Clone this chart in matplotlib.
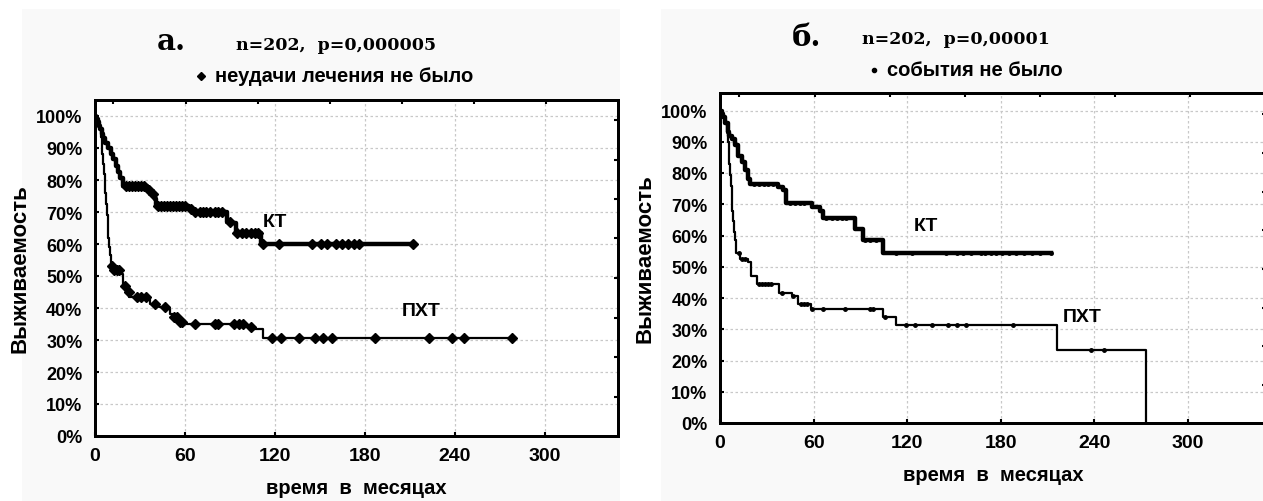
import numpy as np
import matplotlib
matplotlib.use("Agg")
import matplotlib.pyplot as plt
from matplotlib.patches import Rectangle
from matplotlib.lines import Line2D

# ---------------- data ----------------
# panel a (failure-free survival)
kt_a_t = [0, 1, 2, 3, 3.5, 4.5, 5.5, 7, 9, 10.5, 12, 14, 15.5, 17, 19, 35, 37.5, 40, 41, 63, 65.5, 88, 91, 94, 111, 212]
kt_a_s = [100, 99, 98, 97, 96, 94.5, 93, 91.5, 90, 88, 86.5, 84.5, 82.5, 80.5, 78, 77, 75.5, 74, 72, 71, 70, 67, 66.5,
          63.5, 60, 60]
kt_a_cens = [21, 23, 25, 27, 29, 31, 33, 36, 39, 42, 44, 46, 48, 50, 52, 54, 56, 58, 60, 64, 67, 70, 72, 74,
             77, 80, 82, 85, 90, 95, 98, 101, 104, 107, 109, 112, 123, 145, 151, 155, 161, 165, 169, 173, 176, 212]

pxt_a_t = [0, 1, 2, 3, 3.5, 4, 4.5, 5, 5.5, 6, 6.5, 7, 7.5, 8, 8.5, 9, 9.5, 10, 10.5, 11, 13, 16.5, 19, 21, 23, 37,
           43, 47.5, 50, 52, 56.5, 59, 101.5, 105, 112, 280]
pxt_a_s = [100, 99, 98, 97, 96, 93.5, 91, 88, 85, 82, 79, 76, 72.5, 69, 65.5, 62, 59, 56.5, 54.5, 53, 52, 50.5, 47,
           45, 43.3, 41.3, 40.2, 39.7, 38.1, 37.1, 35.5, 35, 34, 33.5, 30.5, 30.5]
pxt_a_cens = [11.5, 13, 14.5, 16, 20, 22.5, 28, 31, 34, 40, 47, 53, 55, 57, 58, 67, 80, 82, 93, 96, 99, 104,
              118, 124, 136, 147, 152, 158, 187, 223, 238, 246, 278]

# panel b (event-free survival)
kt_b_t = [0, 1, 2, 3, 3.5, 5, 6, 7.5, 9.5, 11.5, 14, 16, 18, 19.5, 37, 40.5, 42.5, 59, 64, 66, 86.5, 91.5, 104.5, 212]
kt_b_s = [100, 99, 98, 97, 96, 93, 92, 91, 89, 85.5, 83.5, 81, 78, 76.5, 75.5, 74.5, 70.5, 69, 68, 65.5, 62, 58.5,
          54.5, 54.5]
kt_b_cens = [22, 25, 28, 31, 34, 45, 48, 51, 54, 68, 72, 75, 78, 81, 93, 96, 100, 113, 123, 145, 152, 156,
             161, 167, 170, 174, 177, 181, 185, 190, 195, 200, 205, 212]

pxt_b_t = [0, 1, 2, 3, 3.5, 4.5, 5, 5.5, 6, 6.5, 7, 7.5, 8, 8.5, 9, 9.5, 10, 10.5, 13, 18, 20, 23.5, 37.5, 46, 50,
           58.5, 104.5, 113, 216, 273, 273]
pxt_b_s = [100, 99, 98, 97, 96, 93, 90, 86.5, 83, 79.5, 76, 72, 68, 64.5, 61, 58.5, 56, 54.5, 52.5, 51.5, 47, 44.5,
           41.5, 40.5, 38, 36.5, 34, 31.5, 23.5, 0, 0]
pxt_b_cens = [12, 14, 16, 25, 27, 29, 31, 33, 40, 47, 52, 54, 56, 59, 66, 80, 96, 98, 106, 119, 125, 136,
              146, 152, 158, 188, 238, 246]

x_ticks = [0, 60, 120, 180, 240, 300]
y_ticks = [0, 10, 20, 30, 40, 50, 60, 70, 80, 90, 100]
y_labels = [f"{v}%" for v in y_ticks]
top_ticks = [12, 61, 109, 157, 205, 253, 301]
right_ticks = [12.2, 24.7, 36.9, 49.4, 61.9, 74, 86.25, 98.75]

W, H = 1263, 502
fig = plt.figure(figsize=(W / 100, H / 100), dpi=100, facecolor="white")
plt.rcParams["font.family"] = ["Liberation Sans", "DejaVu Sans"]

# light grey panel backgrounds
bg = "#f9f9f9"
fig.add_artist(Rectangle((22 / W, 0), (620 - 22) / W, (H - 10) / H, transform=fig.transFigure,
                         facecolor=bg, edgecolor="none", zorder=-10))
fig.add_artist(Rectangle((661 / W, 0), (W - 661) / W, (H - 10) / H, transform=fig.transFigure,
                         facecolor=bg, edgecolor="none", zorder=-10))


def surv_at(times, surv, pts):
    idx = np.searchsorted(np.asarray(times), np.asarray(pts), side="right") - 1
    return np.asarray(surv)[idx]


def setup(ax, ylim_top, xlim_right):
    ax.set_xlim(0, xlim_right)
    ax.set_ylim(0, ylim_top)
    ax.set_xticks(x_ticks)
    ax.set_xticklabels([str(v) for v in x_ticks], fontsize=14, fontweight="bold")
    ax.set_yticks(y_ticks)
    ax.set_yticklabels(y_labels, fontsize=13, fontweight="bold")
    ax.tick_params(direction="in", length=3, width=1.5)
    ax.tick_params(axis="y", pad=9)
    ax.tick_params(axis="x", pad=8)
    ax.grid(True, color="#c8c8c8", linestyle=(0, (2, 2)), linewidth=0.9)
    for s in ax.spines.values():
        s.set_linewidth(2)
    ax.set_facecolor("white")
    ax.set_ylabel("Выживаемость", fontsize=16, fontweight="bold", labelpad=4)
    ax.set_xlabel("время  в  месяцах", fontsize=14.5, fontweight="bold", labelpad=10)
    # extra ticks on the top / right frame
    ty = ax.twiny()
    ty.set_xlim(ax.get_xlim())
    ty.set_xticks(top_ticks)
    ty.set_xticklabels([])
    ty.tick_params(direction="in", length=3, width=1.5)
    tx = ax.twinx()
    tx.set_ylim(ax.get_ylim())
    tx.set_yticks(right_ticks)
    tx.set_yticklabels([])
    tx.tick_params(direction="in", length=3, width=1.5)
    for a in (ty, tx):
        for s in a.spines.values():
            s.set_linewidth(2)


# ---------------- panel a ----------------
axa = fig.add_axes([95 / W, (H - 437) / H, (618 - 95) / W, (437 - 101) / H])
setup(axa, 105, 349)
axa.plot(kt_a_t, kt_a_s, drawstyle="steps-post", color="black", lw=3.2, zorder=3)
axa.plot(kt_a_cens, surv_at(kt_a_t, kt_a_s, kt_a_cens), "D", color="black", ms=5, zorder=4)
axa.plot(pxt_a_t, pxt_a_s, drawstyle="steps-post", color="black", lw=1.6, zorder=3)
axa.plot(pxt_a_cens, surv_at(pxt_a_t, pxt_a_s, pxt_a_cens), "D", color="black", ms=5.5, zorder=4)
axa.text(112, 64.5, "КТ", fontsize=14, fontweight="bold", ha="left", va="bottom")
axa.text(205, 36.5, "ПХТ", fontsize=14, fontweight="bold", ha="left", va="bottom")

fig.text(157 / W, 1 - 42 / H, "а.", fontsize=21, fontweight="bold", family="DejaVu Serif", va="center")
fig.text(236 / W, 1 - 45 / H, "n=202,  p=0,000005", fontsize=12.5, fontweight="bold",
         family="DejaVu Serif", va="center")
fig.add_artist(Line2D([201 / W], [1 - 77 / H], marker="D", ms=4.5, color="black", transform=fig.transFigure))
fig.text(215 / W, 1 - 77 / H, "неудачи лечения не было", fontsize=14.5, fontweight="bold", va="center")

# ---------------- panel b ----------------
axb = fig.add_axes([720 / W, (H - 424) / H, (1266 - 720) / W, (424 - 94) / H])
setup(axb, 105.6, 350)
axb.plot(kt_b_t, kt_b_s, drawstyle="steps-post", color="black", lw=3.2, zorder=3)
axb.plot(kt_b_cens, surv_at(kt_b_t, kt_b_s, kt_b_cens), "o", color="black", ms=2.5, zorder=4)
axb.plot(pxt_b_t, pxt_b_s, drawstyle="steps-post", color="black", lw=1.6, zorder=3)
axb.plot(pxt_b_cens, surv_at(pxt_b_t, pxt_b_s, pxt_b_cens), "o", color="black", ms=2.5, zorder=4)
axb.text(124, 60.5, "КТ", fontsize=14, fontweight="bold", ha="left", va="bottom")
axb.text(220, 31.5, "ПХТ", fontsize=14, fontweight="bold", ha="left", va="bottom")

fig.text(792 / W, 1 - 38 / H, "б.", fontsize=21, fontweight="bold", family="DejaVu Serif", va="center")
fig.text(862 / W, 1 - 40 / H, "n=202,  p=0,00001", fontsize=12.5, fontweight="bold",
         family="DejaVu Serif", va="center")
fig.add_artist(Line2D([874 / W], [1 - 71 / H], marker="o", ms=3, color="black", transform=fig.transFigure))
fig.text(887 / W, 1 - 71 / H, "события не было", fontsize=14.5, fontweight="bold", va="center")

fig.savefig("out.png", dpi=100, facecolor=fig.get_facecolor())
